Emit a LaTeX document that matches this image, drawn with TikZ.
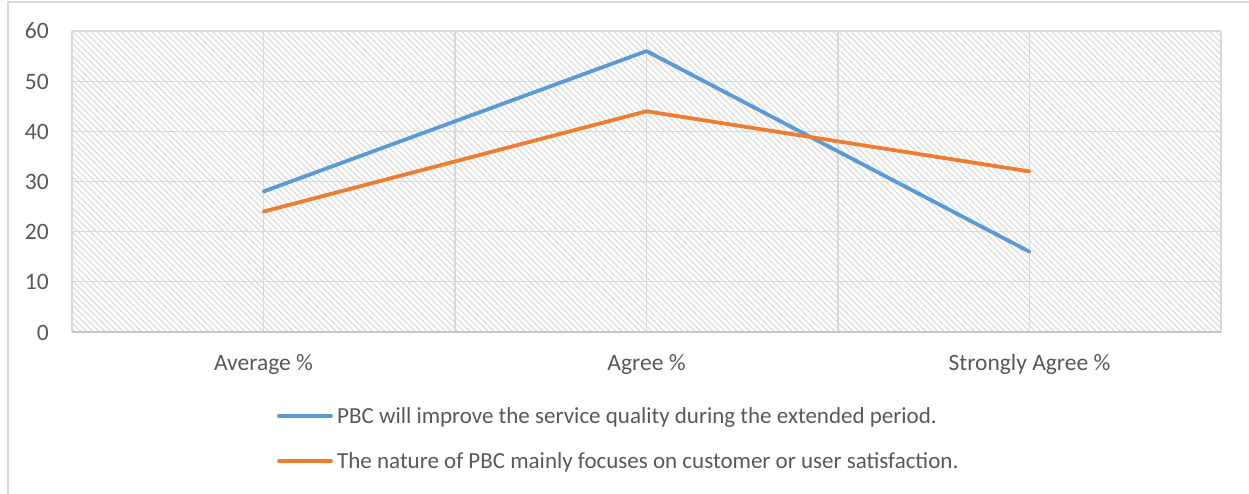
\documentclass[tikz,border=0pt]{standalone}
\usepackage{fontspec}
\setmainfont{Carlito}
\usetikzlibrary{patterns.meta}
\definecolor{gridc}{HTML}{D9D9D9}
\definecolor{txtc}{HTML}{595959}
\definecolor{serA}{HTML}{5B9BD5}
\definecolor{serB}{HTML}{ED7D31}
\tikzset{
  lbl/.style={text=txtc,font=\fontsize{23.5}{28}\selectfont,inner sep=0pt},
  leg/.style={text=txtc,font=\fontsize{23}{28}\selectfont,inner sep=0pt},
  grid line/.style={draw=gridc,line width=1.3pt},
  series/.style={line width=3.8pt,line cap=round,line join=round},
}
\begin{document}
\begin{tikzpicture}[x=1pt,y=-1pt]
\useasboundingbox (0,0) rectangle (1249,494);
% chart border
\draw[draw=gridc,line width=1.5pt] (8,520) -- (8,2) -- (1260,2);
% plot area hatch
\fill[pattern={Lines[angle=-45,distance=4.3pt,line width=1.2pt]},pattern color=black!14] (72,31) rectangle (1221,332);
% horizontal grid
\foreach \v in {10,20,...,60}{
  \draw[grid line] (72,{332-\v*5.0167}) -- (1221,{332-\v*5.0167});
}
% vertical grid
\foreach \x in {263.5,455,646.5,838,1029.5}{
  \draw[grid line] (\x,31) -- (\x,332);
}
\draw[grid line] (72,31) -- (72,332);
\draw[grid line] (1221,31) -- (1221,332);
\draw[draw=black!22,line width=1.8pt] (72,332) -- (1221,332);
% y labels
\foreach \v in {0,10,...,60}{
  \node[lbl,anchor=base east] (y\v) at (49,{332-\v*5.0167+8}) {\v};
}
% x labels
\node[lbl,anchor=base] (c1) at (263.5,370) {Average \%};
\node[lbl,anchor=base] (c2) at (646.5,370) {Agree \%};
\node[lbl,anchor=base] (c3) at (1029.5,370) {Strongly Agree \%};
% data points
\coordinate (a1) at (263.5,{332-28*5.0167});
\coordinate (a2) at (646.5,{332-56*5.0167});
\coordinate (a3) at (1029.5,{332-16*5.0167});
\coordinate (b1) at (263.5,{332-24*5.0167});
\coordinate (b2) at (646.5,{332-44*5.0167});
\coordinate (b3) at (1029.5,{332-32*5.0167});
\draw[series,serA] (a1) -- (a2) -- (a3);
\draw[series,serB] (b1) -- (b2) -- (b3);
% legend
\coordinate (la1) at (279,416);
\coordinate (la2) at (331,416);
\coordinate (lb1) at (279,461);
\coordinate (lb2) at (331,461);
\draw[series,serA] (la1) -- (la2);
\draw[series,serB] (lb1) -- (lb2);
\node[leg,anchor=base west] (la) at (337,423) {PBC will improve the service quality during the extended period.};
\node[leg,anchor=base west] (lb) at (337,468) {The nature of PBC mainly focuses on customer or user satisfaction.};
\end{tikzpicture}
\end{document}
